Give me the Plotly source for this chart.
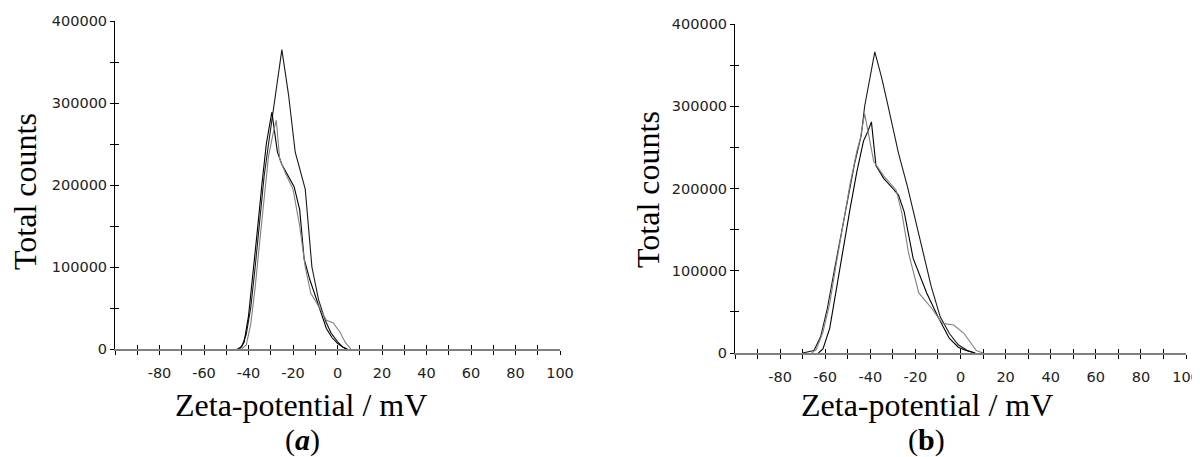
import plotly.graph_objects as go

# ---------------- data ----------------
# Panel (a)
a1_x = [-45, -43, -41, -39, -37, -35, -33, -31, -28.5, -25, -22, -19, -14.5, -11.5, -8.5, -5.5, -3, 0, 2.5, 4.5]
a1_y = [0, 3000, 18000, 50000, 100000, 155000, 210000, 250000, 300000, 365000, 310000, 240000, 195000, 100000, 60000, 35000, 20000, 9000, 2000, 0]

a2_x = [-44, -42, -40, -38, -36, -34, -32, -29.5, -27, -25, -22, -19.5, -17, -15, -12.5, -10, -7.5, -5, -2.5, 0, 2.5, 4]
a2_y = [0, 8000, 40000, 90000, 145000, 200000, 250000, 289000, 240000, 225000, 210000, 198000, 170000, 110000, 85000, 65000, 45000, 25000, 14000, 7000, 2000, 0]

a3_x = [-43, -41, -39, -37, -35, -33, -31, -29, -27.5, -26, -23, -20, -17, -14.5, -12, -8, -5, -2, 1, 3.5, 6]
a3_y = [0, 5000, 30000, 75000, 130000, 185000, 235000, 262000, 279000, 232000, 212000, 195000, 150000, 100000, 68000, 50000, 35000, 32000, 21000, 8000, 0]

# Panel (b)
b1_x = [-70, -65, -62, -59, -56, -53, -50, -47, -44, -42.5, -38, -35, -32.5, -27.5, -23.5, -18.5, -13, -9, -5, -1, 3, 6.5]
b1_y = [0, 3000, 20000, 55000, 100000, 145000, 190000, 230000, 265000, 300000, 366000, 335000, 305000, 243000, 202000, 146000, 81000, 44000, 24000, 10000, 3000, 0]

b2_x = [-63, -61, -58, -55, -52, -49, -46, -43, -41, -39.5, -37.5, -34, -30, -27.5, -25, -21, -15, -10, -5, -1, 2.5, 6.5]
b2_y = [0, 5000, 30000, 80000, 130000, 175000, 220000, 258000, 270000, 281000, 228000, 212000, 200000, 192000, 172000, 115000, 73000, 44000, 18000, 7000, 3000, 0]

b3_x = [-66, -64, -61, -58, -55, -52, -49, -46, -44.5, -42.5, -38.5, -34, -28.5, -26, -23, -18.5, -13, -8, -3, 1.5, 4.5, 7, 10]
b3_y = [0, 4000, 25000, 60000, 110000, 160000, 205000, 245000, 260000, 291000, 233000, 215000, 198000, 170000, 121000, 73000, 55000, 36000, 34000, 24000, 12000, 3000, 0]

x_tickvals = list(range(-100, 101, 10))
x_ticktext = ["" if (v % 20 != 0 or v == -100) else str(v) for v in x_tickvals]
y_tickvals = list(range(0, 400001, 50000))
y_ticktext = [str(v) if v % 100000 == 0 else "" for v in y_tickvals]

# ---------------- figure ----------------
# the page body has an 8px margin, so the figure is drawn 8px in from the corner
OFF = 8
W, H = 1200 - OFF, 457 - OFF
fig = go.Figure()

series = [
    (a1_x, a1_y, "#1a1a1a", "x", "y"),
    (a2_x, a2_y, "#000000", "x", "y"),
    (a3_x, a3_y, "#808080", "x", "y"),
    (b1_x, b1_y, "#1a1a1a", "x2", "y2"),
    (b2_x, b2_y, "#000000", "x2", "y2"),
    (b3_x, b3_y, "#808080", "x2", "y2"),
]
for xs, ys, col, xa, ya in series:
    fig.add_trace(go.Scatter(x=xs, y=ys, mode="lines", xaxis=xa, yaxis=ya,
                             line=dict(color=col, width=1.1), showlegend=False,
                             hoverinfo="skip"))

# empty traces so the overlay (tick-crossing) axes are drawn
fig.add_trace(go.Scatter(x=[], y=[], xaxis="x3", yaxis="y3", showlegend=False))
fig.add_trace(go.Scatter(x=[], y=[], xaxis="x4", yaxis="y4", showlegend=False))

tickfont = dict(family="DejaVu Sans", size=14.5, color="#222222")

def px(v):
    return (v - OFF) / W

def py(v):
    return (H - (v - OFF)) / H

panels = {
    "a": dict(x0=115, x1=560, y0=349, y1=21),
    "b": dict(x0=735, x1=1186, y0=353, y1=24),
}

xdoms = {k: [px(p["x0"]), px(p["x1"])] for k, p in panels.items()}
ydoms = {k: [py(p["y0"]), py(p["y1"])] for k, p in panels.items()}

common_x = dict(range=[-100, 100], tickmode="array", tickvals=x_tickvals,
                showgrid=False, zeroline=False, fixedrange=True, automargin=False)
common_y = dict(range=[0, 400000], tickmode="array", tickvals=y_tickvals,
                showgrid=False, zeroline=False, fixedrange=True, automargin=False)

layout = dict(
    width=W, height=H,
    margin=dict(l=0, r=0, t=0, b=0),
    paper_bgcolor="white", plot_bgcolor="rgba(0,0,0,0)",
    xaxis=dict(domain=xdoms["a"], anchor="y", ticktext=x_ticktext, ticks="outside",
               ticklen=4, tickcolor="#000", tickwidth=1, showline=True,
               linecolor="#808080", linewidth=2, tickfont=tickfont,
               ticklabelstandoff=6, **common_x),
    yaxis=dict(domain=ydoms["a"], anchor="x", ticktext=y_ticktext, ticks="outside",
               ticklen=4, tickcolor="#000", tickwidth=1, showline=True,
               linecolor="#000", linewidth=1, tickfont=tickfont, **common_y),
    xaxis2=dict(domain=xdoms["b"], anchor="y2", ticktext=x_ticktext, ticks="outside",
                ticklen=4, tickcolor="#000", tickwidth=1, showline=True,
                linecolor="#808080", linewidth=2, tickfont=tickfont,
                ticklabelstandoff=6, **common_x),
    yaxis2=dict(domain=ydoms["b"], anchor="x2", ticktext=y_ticktext, ticks="outside",
                ticklen=4, tickcolor="#000", tickwidth=1, showline=True,
                linecolor="#000", linewidth=1, tickfont=tickfont, **common_y),
    xaxis3=dict(overlaying="x", anchor="y", ticks="inside", ticklen=4, tickcolor="#000",
                showticklabels=False, showline=False, **common_x),
    yaxis3=dict(overlaying="y", anchor="x", side="left", ticks="inside", ticklen=4,
                tickcolor="#000", showticklabels=False, showline=False, **common_y),
    xaxis4=dict(overlaying="x2", anchor="y2", ticks="inside", ticklen=4, tickcolor="#000",
                showticklabels=False, showline=False, **common_x),
    yaxis4=dict(overlaying="y2", anchor="x2", side="left", ticks="inside", ticklen=4,
                tickcolor="#000", showticklabels=False, showline=False, **common_y),
)
fig.update_layout(**layout)

serif = "Liberation Serif, Times New Roman, serif"
annots = [
    dict(text="Total counts", x=px(25), y=py(192), textangle=-90, size=32),
    dict(text="Zeta-potential / mV", x=px(301), y=py(405), textangle=0, size=32),
    dict(text="(<b><i>a</i></b>)", x=px(302), y=py(440), textangle=0, size=30),
    dict(text="Total counts", x=px(648), y=py(190), textangle=-90, size=32),
    dict(text="Zeta-potential / mV", x=px(927), y=py(405), textangle=0, size=32),
    dict(text="(<b>b</b>)", x=px(926), y=py(440), textangle=0, size=30),
]
for a in annots:
    fig.add_annotation(text=a["text"], x=a["x"], y=a["y"], xref="paper", yref="paper",
                       xanchor="center", yanchor="middle", showarrow=False,
                       textangle=a["textangle"],
                       font=dict(family=serif, size=a["size"], color="#000"))

fig.write_html("out.html")
